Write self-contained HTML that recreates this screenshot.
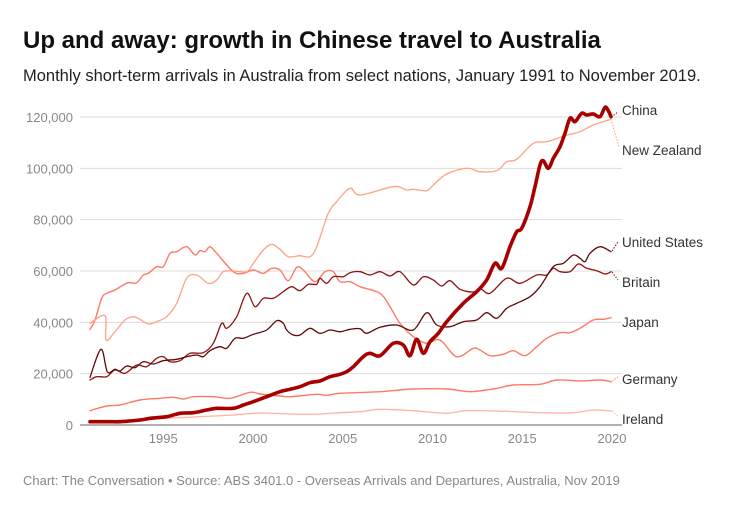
<!DOCTYPE html>
<html><head><meta charset="utf-8"><style>
body{margin:0;background:#fff;width:754px;height:518px;overflow:hidden;font-family:"Liberation Sans",sans-serif}
</style></head><body>
<svg id="s" width="754" height="518" xmlns="http://www.w3.org/2000/svg" font-family="Liberation Sans, sans-serif">
<text x="23" y="48" font-size="24" font-weight="bold" fill="#111">Up and away: growth in Chinese travel to Australia</text>
<text x="23" y="81" font-size="16.5" fill="#222">Monthly short-term arrivals in Australia from select nations, January 1991 to November 2019.</text>
<text x="23" y="485" font-size="13" fill="#888">Chart: The Conversation • Source: ABS 3401.0 - Overseas Arrivals and Departures, Australia, Nov 2019</text>
<g id="g"></g>
</svg>
<script>
var h='';
function Y(v){return 425-v*308/120000}
function X(y){return 253+(y-2000)*17.95}
for(var i=0;i<=6;i++){var yy=Y(i*20000);
 h+='<line x1="80" x2="622" y1="'+yy+'" y2="'+yy+'" stroke="'+(i==0?'#999':'#ddd')+'" stroke-width="'+(i==0?1.5:1)+'"/>';
 h+='<text x="73" y="'+(yy+5)+'" text-anchor="end" font-size="13" fill="#888">'+(i==0?'0':(i*20)+',000')+'</text>';}
[1995,2000,2005,2010,2015,2020].forEach(function(y){h+='<text x="'+X(y)+'" y="443" text-anchor="middle" font-size="13" fill="#888">'+y+'</text>'});
function P(a,b){var p=[];for(var i=0;i<a.length;i+=2)p.push([a[i]/3,90+a[i+1]/3]);for(i=0;i<b.length;i+=2)p.push([380+b[i]/3,90+b[i+1]/3]);return p}
function smooth(p){var d='M'+p[0][0].toFixed(1)+' '+p[0][1].toFixed(1);
 for(var i=0;i<p.length-1;i++){var p0=p[i-1]||p[i],p1=p[i],p2=p[i+1],p3=p[i+2]||p2;
  d+='C'+(p1[0]+(p2[0]-p0[0])/6).toFixed(1)+' '+(p1[1]+(p2[1]-p0[1])/6).toFixed(1)+' '+(p2[0]-(p3[0]-p1[0])/6).toFixed(1)+' '+(p2[1]-(p3[1]-p1[1])/6).toFixed(1)+' '+p2[0].toFixed(1)+' '+p2[1].toFixed(1);}
 return d}
var S=[
['#ffb5a2',1.3,P([270,997,400,990,500,985,600,980,700,975,760,970,820,970,900,973,960,972,1020,968,1080,965],[0,958,100,962,200,970,260,962,380,964,480,968,580,968,640,960,693,963])],
['#ff7a66',1.4,P([270,962,320,948,360,945,420,930,480,925,520,922,550,927,580,920,640,920,690,925,750,907,780,912,840,918,870,920,950,913,980,916,1020,910],[0,905,100,897,200,897,270,905,340,897,400,885,480,883,530,870,600,873,660,870,693,875])],
['#ff7a66',1.4,P([270,718,285,690,305,625,320,610,345,600,370,585,385,578,410,578,430,555,445,550,470,530,490,530,510,490,530,485,560,470,585,495,600,482,615,485,630,470,650,490,700,545,730,550,760,540,790,550,815,535,840,540,865,572,890,532,910,540,945,575,975,545,1000,545,1020,575,1050,575,1080,590],[0,610,30,650,60,700,100,740,140,760,180,750,230,800,280,775,300,780,330,797,370,793,400,782,435,797,470,770,500,745,540,728,570,728,600,715,640,690,670,688,693,683])],
['#ffa286',1.3,P([270,700,315,677,318,750,345,725,375,690,400,680,420,688,445,702,470,695,500,680,530,640,560,565,590,555,625,580,650,570,670,545,700,543,740,545,760,520,790,480,815,463,840,478,865,500,900,497,930,500,950,470,985,370,1010,335,1050,295,1080,315],[40,290,80,300,100,298,140,302,160,285,200,252,260,235,300,245,350,242,380,215,410,208,460,160,500,155,560,136,600,125,640,105,693,88])],
['#8e1212',1.3,P([270,870,290,860,320,860,345,840,375,850,410,825,440,830,470,805,490,800,510,815,540,812,570,790,610,788,640,760,665,700,680,715,710,680,740,610,765,650,790,625,820,625,850,605,875,590,900,602,925,583,950,583,960,565,980,580,1000,560,1030,560,1050,548,1080,545,1110,555],[0,545,30,558,60,545,100,585,130,560,160,570,185,588,210,572,240,598,280,606,300,595,330,610,380,565,420,580,470,555,500,555,520,535,540,545,570,545,595,522,620,535,650,542,675,552,693,545])],
['#600808',1.3,P([270,862,303,778,322,845,345,838,360,843,380,828,405,833,430,815,460,822,490,812,530,808,560,800,590,795,610,800,630,782,660,770,680,775,705,745,730,745,760,733,800,720,830,692,850,700,860,720,880,735,900,735,930,715,960,730,990,720,1020,725,1050,718,1080,716,1100,730],[0,712,50,705,100,720,140,668,170,705,210,710,250,695,290,690,320,668,350,685,380,655,410,640,450,620,480,590,520,530,550,520,580,495,600,505,615,515,630,490,660,470,693,485])],
['#a80000',3.6,P([270,995,330,995,360,995,420,990,450,985,500,980,540,970,580,968,620,960,650,955,700,955,730,945,760,935,800,920,840,905,870,898,900,890,930,878,960,873,990,860,1020,853,1040,845,1060,830,1090,800,1110,790],[0,797,40,760,70,765,90,797,110,748,130,790,150,755,175,730,200,695,250,640,290,605,320,570,345,520,365,535,390,470,410,425,425,415,450,350,465,290,480,225,490,212,505,235,520,205,540,170,555,130,570,85,585,95,605,70,620,75,640,72,660,80,675,52,685,62,693,80])]
];
S.forEach(function(s){h+='<path d="'+smooth(s[2])+'" fill="none" stroke="'+s[0]+'" stroke-width="'+s[1]+'" stroke-linejoin="round" stroke-linecap="round"/>'});
var L=[['China',110,'#a80000',611,117,618,112],['New Zealand',150,'#ffa286',611,119,619,147],['United States',242,'#600808',612,251,618,242],['Britain',282,'#8e1212',612,272,618,280],['Japan',322,'',0,0,0,0],['Germany',379,'#ff7a66',612,381,618,377],['Ireland',419,'#ffb5a2',612,411,618,416]];
L.forEach(function(l){if(l[2])h+='<line x1="'+l[3]+'" y1="'+l[4]+'" x2="'+l[5]+'" y2="'+l[6]+'" stroke="'+l[2]+'" stroke-width="1" stroke-dasharray="1.5,1.5"/>';
 h+='<text x="622" y="'+(l[1]+5)+'" font-size="13.5" fill="#333">'+l[0]+'</text>'});
document.getElementById('g').innerHTML=h;
</script>
</body></html>
